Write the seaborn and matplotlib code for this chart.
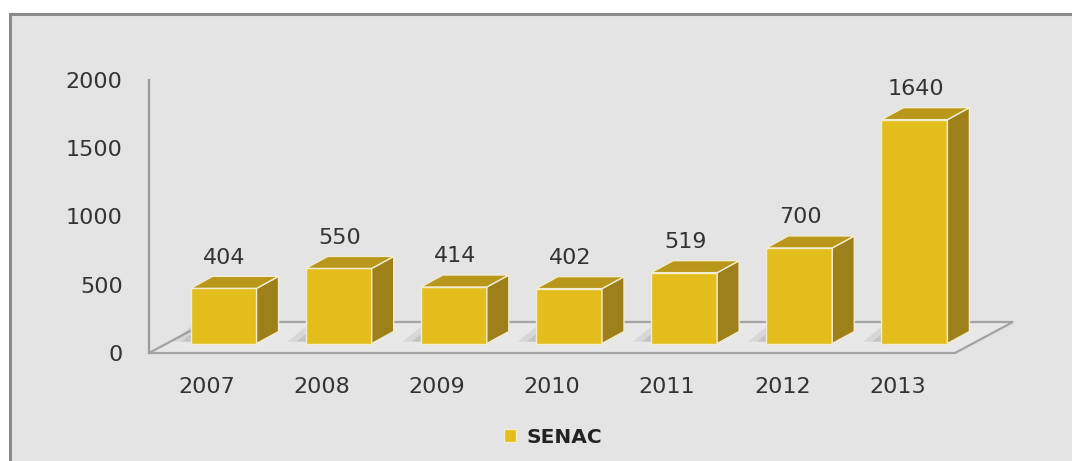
import matplotlib
matplotlib.use("Agg")
import matplotlib.pyplot as plt
import seaborn as sns
import pandas as pd
import numpy as np
from matplotlib.patches import Polygon, Rectangle
from matplotlib.transforms import ScaledTranslation, IdentityTransform

# data
years = ["2007", "2008", "2009", "2010", "2011", "2012", "2013"]
values = [404, 550, 414, 402, 519, 700, 1640]
series = "SENAC"
yticks = [0, 500, 1000, 1500, 2000]

# colours
front = "#e3bd1c"
top_c = "#b8971a"
side_c = "#9e801a"
edge = "#f2ecd2"

sns.set_theme(style="white")
plt.rcParams["font.family"] = ["DejaVu Sans"]

W, H = 1072, 461
fig = plt.figure(figsize=(W / 100, H / 100), dpi=100)
fig.patch.set_facecolor("white")

# grey chart box (cut by the right / bottom edge of the picture)
fig.add_artist(Rectangle((10 / W, -0.2), 1.5, (H - 14) / H + 0.2,
                         transform=fig.transFigure, fc="#e4e4e4",
                         ec="#8a8a8a", lw=2.2, zorder=0))

ax = fig.add_axes([149 / W, 108 / H, 806 / W, 273 / H])
ax.set_facecolor("none")

df = pd.DataFrame({"year": years, "value": values})
sns.barplot(data=df, x="year", y="value", color=front, saturation=1,
            width=0.573, edgecolor=edge, linewidth=1, label=series,
            ax=ax, zorder=3)
ax.set_xlim(-0.5, len(years) - 0.5)
ax.set_ylim(0, 2000)
ax.set_yticks(yticks)

# 3d look: front faces sit a bit back on the floor
shift = (17, 9.5)      # pixels
depth = (22, 12)       # bar depth, pixels
floor_depth = (58, 31)
off = ScaledTranslation(shift[0] / 100, shift[1] / 100, fig.dpi_scale_trans)
bars = [p for p in ax.patches if isinstance(p, Rectangle)]
for p in bars:
    p.set_transform(ax.transData + off)

ident = IdentityTransform()

# floor
fl = ax.transData.transform((-0.5, 0))
fr = ax.transData.transform((len(years) - 0.5, 0))
fd = np.array(floor_depth)
ax.add_artist(Polygon([fl, fr, fr + fd, fl + fd], closed=True, transform=ident,
                      fc="#e8e8e8", ec="#a3a3a3", lw=1.6, zorder=1,
                      clip_on=False))

d = np.array(depth)
s = np.array(shift)
for p in bars:
    x0 = p.get_x()
    x1 = x0 + p.get_width()
    h = p.get_height()
    b0 = ax.transData.transform((x0, 0)) + s
    b1 = ax.transData.transform((x1, 0)) + s
    t0 = ax.transData.transform((x0, h)) + s
    t1 = ax.transData.transform((x1, h)) + s
    # soft shadow on floor, two layers for a little fade
    for k, a in [(18, 0.18), (9, 0.25)]:
        sh = np.array([-k, 2])
        ax.add_artist(Polygon([b0 + sh, b1, b1 + d + [0, 6], b0 + d + sh + [0, 6]],
                              closed=True, transform=ident, fc="#8a8a8a",
                              ec="none", alpha=a, zorder=1.5, clip_on=False))
    ax.add_artist(Polygon([b1, t1, t1 + d, b1 + d], closed=True,
                          transform=ident, fc=side_c, ec=edge, lw=1,
                          zorder=3, clip_on=False))
    ax.add_artist(Polygon([t0, t1, t1 + d, t0 + d], closed=True,
                          transform=ident, fc=top_c, ec=edge, lw=1,
                          zorder=3, clip_on=False))

# value labels
for i, v in enumerate(values):
    ax.annotate(str(v), xy=(i, v), xytext=(shift[0] + 1, 40),
                textcoords="offset pixels", ha="center", va="center",
                fontsize=16, color="#333333", zorder=4)

for side in ["top", "right", "bottom"]:
    ax.spines[side].set_visible(False)
ax.spines["left"].set_color("#9a9a9a")
ax.spines["left"].set_linewidth(1.6)
ax.tick_params(axis="y", length=0, pad=19, labelsize=16, labelcolor="#333333")
ax.tick_params(axis="x", length=0, pad=17, labelsize=16, labelcolor="#333333")
ax.set_xlabel("")
ax.set_ylabel("")

leg = ax.legend(loc="center", bbox_to_anchor=(553 / W, 24 / H),
                bbox_transform=fig.transFigure, frameon=False,
                handlelength=0.6, handleheight=0.6, handletextpad=0.5,
                prop={"weight": "bold", "size": 14.5})
for t in leg.get_texts():
    t.set_color("#222222")

fig.savefig("out.png", dpi=100)
